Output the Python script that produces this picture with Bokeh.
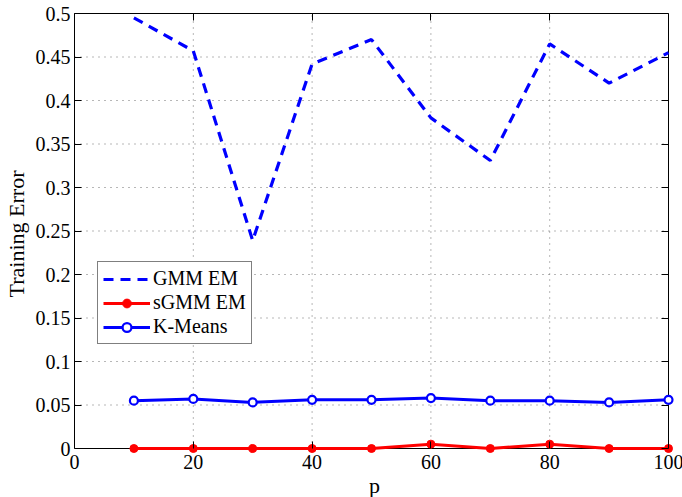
from bokeh.plotting import figure
from bokeh.models import (FixedTicker, LinearAxis, Legend, LegendItem, Range1d,
                          CustomJSTickFormatter)
from bokeh.embed import file_html
from bokeh.resources import INLINE

p_vals = [10, 20, 30, 40, 50, 60, 70, 80, 90, 100]
gmm_em = [0.495, 0.457, 0.239, 0.442, 0.470, 0.380, 0.331, 0.465, 0.420, 0.455]
sgmm_em = [0.0, 0.0, 0.0, 0.0, 0.0, 0.005, 0.0, 0.005, 0.0, 0.0]
kmeans = [0.055, 0.057, 0.053, 0.056, 0.056, 0.058, 0.055, 0.055, 0.053, 0.056]

x_ticks = [0, 20, 40, 60, 80, 100]
y_ticks = [0, 0.05, 0.1, 0.15, 0.2, 0.25, 0.3, 0.35, 0.4, 0.45, 0.5]
x_label = "p"
y_label = "Training Error"
series_names = ["GMM EM", "sGMM EM", "K-Means"]

FONT = "Liberation Serif"
TICK_FS = "20px"
LABEL_FS = "22px"

x_lo, x_hi = x_ticks[0], x_ticks[-1]
y_lo, y_hi = y_ticks[0], y_ticks[-1]

# frame is a few pixels larger than the axes box (right and bottom) so that
# markers/lines lying on the box edge are not clipped
pad_px = 6.0
frame_w, frame_h = 600, 441
x_end = x_hi + pad_px * (x_hi - x_lo) / (frame_w - pad_px)
y_start = y_lo - pad_px * (y_hi - y_lo) / (frame_h - pad_px)

p = figure(frame_width=frame_w, frame_height=frame_h, output_backend="svg",
           toolbar_location=None,
           x_range=Range1d(x_lo, x_end), y_range=Range1d(y_start, y_hi),
           min_border_left=73, min_border_right=9, min_border_top=13,
           min_border_bottom=43)
p.outline_line_color = None
p.background_fill_color = "white"
p.border_fill_color = "white"
p.grid.visible = False

fmt = CustomJSTickFormatter(code="""
var s = tick.toFixed(2);
s = s.replace(/0+$/, '');
s = s.replace(/\\.$/, '');
return s;
""")
blank = CustomJSTickFormatter(code="return '';")

def style_axis(ax):
    ax.major_tick_in = 7
    ax.major_tick_out = 0
    ax.minor_tick_in = 0
    ax.minor_tick_out = 0
    ax.axis_line_color = "black"
    ax.axis_line_width = 1
    ax.major_tick_line_color = "black"
    ax.major_label_text_font = FONT
    ax.major_label_text_font_size = TICK_FS
    ax.major_label_text_color = "black"
    ax.axis_label_text_font = FONT
    ax.axis_label_text_font_size = LABEL_FS
    ax.axis_label_text_font_style = "normal"
    ax.axis_label_text_color = "black"

# bottom axis: tick labels + axis title only (sits at frame bottom)
for ax in p.xaxis:
    style_axis(ax)
    ax.ticker = FixedTicker(ticks=x_ticks)
    ax.axis_line_color = None
    ax.major_tick_in = 0
    ax.major_tick_out = 0
    ax.major_label_text_line_height = 1.0
    ax.axis_label_text_line_height = 1.0
    ax.major_label_standoff = 0
    ax.axis_label_standoff = 1

for ax in p.yaxis:
    style_axis(ax)
    ax.ticker = FixedTicker(ticks=y_ticks)
    ax.formatter = fmt
    ax.bounds = (y_lo, y_hi)
    ax.axis_label = y_label
    ax.major_label_standoff = 4
    ax.axis_label_standoff = 4

p.xaxis[0].axis_label = x_label

# mirrored top axis (ticks only)
top = LinearAxis(ticker=FixedTicker(ticks=x_ticks), bounds=(x_lo, x_hi), formatter=blank)
style_axis(top)
top.major_label_standoff = 0
p.add_layout(top, "above")

# tick marks along the bottom edge of the box (pointing up into the box)
bottom_ticks = LinearAxis(ticker=FixedTicker(ticks=x_ticks), bounds=(x_lo, x_hi),
                          formatter=blank, fixed_location=y_lo)
style_axis(bottom_ticks)
bottom_ticks.axis_line_color = None
bottom_ticks.major_tick_in = 0
bottom_ticks.major_tick_out = 7
bottom_ticks.major_label_standoff = 0
p.add_layout(bottom_ticks, "above")

# mirrored right axis (ticks only) on the right edge of the box
right = LinearAxis(ticker=FixedTicker(ticks=y_ticks), bounds=(y_lo, y_hi),
                   fixed_location=x_hi, formatter=blank)
style_axis(right)
right.axis_line_color = None
right.major_label_standoff = 0
p.add_layout(right, "right")

# box edges at bottom / right (under the data)
p.segment(x0=[x_lo, x_hi], y0=[y_lo, y_lo], x1=[x_hi, x_hi], y1=[y_lo, y_hi],
          line_color="black", line_width=1, level="underlay")

# dotted grid inside the box
gx = x_ticks[1:-1]
gy = y_ticks[1:-1]
p.segment(x0=gx, y0=[y_lo] * len(gx), x1=gx, y1=[y_hi] * len(gx),
          line_color="#6f6f6f", line_width=1, line_dash="1 5", level="underlay")
p.segment(x0=[x_lo] * len(gy), y0=gy, x1=[x_hi] * len(gy), y1=gy,
          line_color="#6f6f6f", line_width=1, line_dash="1 5", level="underlay")

r_gmm = p.line(p_vals, gmm_em, line_color="#0000ff", line_width=3.2, line_dash="10 7")
r_sgmm_l = p.line(p_vals, sgmm_em, line_color="#ff0000", line_width=3)
r_sgmm_m = p.scatter(p_vals, sgmm_em, marker="circle", size=8, fill_color="#ff0000",
                     line_color="#ff0000", line_width=1)
r_km_l = p.line(p_vals, kmeans, line_color="#0000ff", line_width=3)
r_km_m = p.scatter(p_vals, kmeans, marker="circle", size=8, fill_color="white",
                   line_color="#0000ff", line_width=2.2)

legend = Legend(items=[
    LegendItem(label=series_names[0], renderers=[r_gmm]),
    LegendItem(label=series_names[1], renderers=[r_sgmm_l, r_sgmm_m]),
    LegendItem(label=series_names[2], renderers=[r_km_l, r_km_m]),
], location=(23, 110))
legend.label_text_font = FONT
legend.label_text_font_size = TICK_FS
legend.label_text_line_height = 1.0
legend.label_text_color = "black"
legend.border_line_color = "black"
legend.border_line_width = 1.2
legend.background_fill_alpha = 1
legend.glyph_width = 47
legend.glyph_height = 22
legend.label_height = 22
legend.label_standoff = 3
legend.spacing = 1
legend.padding = 5
legend.margin = 0
p.add_layout(legend, "center")

open("out.html", "w").write(file_html(p, INLINE))
